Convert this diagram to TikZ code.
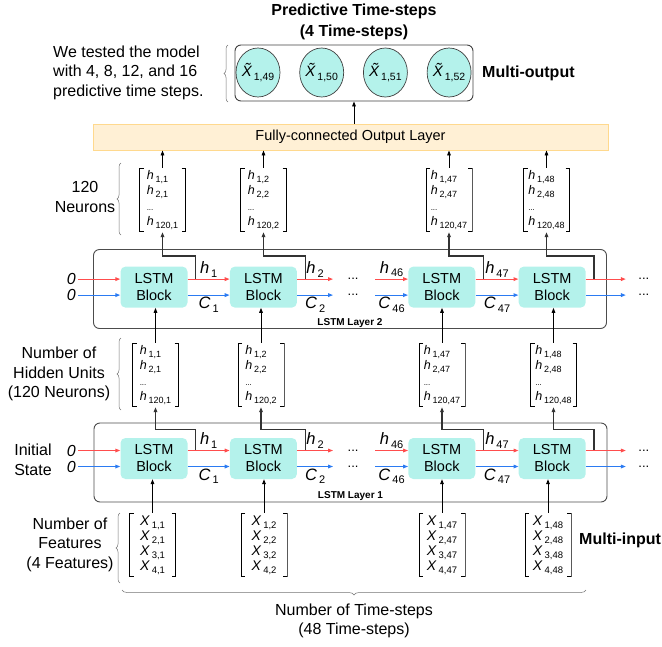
\documentclass[tikz,border=0pt]{standalone}
\usepackage{fontspec}
\setmainfont{Liberation Sans}
\usetikzlibrary{positioning,arrows.meta,shapes.geometric,decorations.pathreplacing}
\definecolor{cellcyan}{HTML}{B4F2EB}
\definecolor{hred}{HTML}{FF4D4D}
\definecolor{cblue}{HTML}{2B7BF2}
\definecolor{fcfill}{HTML}{FFF0D5}
\definecolor{fcdraw}{HTML}{FFD98E}
\newcommand\vsub[3]{\textit{#1}\hspace{2pt}\raisebox{-0.4ex}{\fontsize{#3}{#3}\selectfont #2}}
\newcommand\hcol[1]{\vsub{h}{1,#1}{9}\\\vsub{h}{2,#1}{9}\\{\fontsize{8}{8}\selectfont ...}\\\vsub{h}{120,#1}{9}}
\newcommand\xcol[1]{\vsub{X}{1,#1}{9.5}\\\vsub{X}{2,#1}{9.5}\\\vsub{X}{3,#1}{9.5}\\\vsub{X}{4,#1}{9.5}}

\begin{document}
\begin{tikzpicture}[x=1pt,y=-1pt,
 arrowtip/.style={-{Triangle[length=5pt,width=3.6pt]}},
 arr/.style={arrowtip,line width=0.9pt},
 route/.style={arrowtip,line width=1.2pt,black!80},
 hline/.style={arrowtip,line width=1.2pt,hred},
 cline/.style={arrowtip,line width=1.2pt,cblue},
 block/.style={fill=cellcyan,rounded corners=5pt,minimum width=67pt,minimum height=41pt,inner sep=0,align=center,font=\fontsize{14.5}{17}\selectfont},
 layer/.style={draw=black!70,line width=0.9pt,rounded corners=6pt,minimum width=513pt,minimum height=79pt,inner sep=0},
 layname/.style={font=\bfseries\fontsize{10}{10}\selectfont,inner sep=1pt},
 vecbox/.style={minimum width=47pt,minimum height=64pt,inner sep=0,align=left,
  path picture={\draw[line width=0.8pt] ([xshift=4.5pt,yshift=-0.5pt]path picture bounding box.north west) -- ++(-4pt,0) -- ([xshift=0.5pt,yshift=0.5pt]path picture bounding box.south west) -- ++(4pt,0)
   ([xshift=-4.5pt,yshift=-0.5pt]path picture bounding box.north east) -- ++(4pt,0) -- ([xshift=-0.5pt,yshift=0.5pt]path picture bounding box.south east) -- ++(-4pt,0);}},
 hvec/.style={vecbox,font=\fontsize{12.5}{15.5}\selectfont},
 xvec/.style={vecbox,font=\fontsize{14}{15}\selectfont},
 pred/.style={ellipse,draw=black!75,line width=0.7pt,fill=cellcyan,minimum width=44pt,minimum height=49pt,inner sep=-6pt,font=\fontsize{15}{15}\selectfont},
 outbox/.style={draw=black!75,line width=0.9pt,rounded corners=6pt,minimum width=238pt,minimum height=56pt,inner sep=0},
 fclayer/.style={draw=fcdraw,line width=0.9pt,fill=fcfill,minimum width=515pt,minimum height=26pt,inner sep=0,font=\fontsize{14.5}{14.5}\selectfont},
 zero/.style={text=black,font=\itshape\fontsize{16}{16}\selectfont,inner sep=2pt},
 lab/.style={text=black,font=\fontsize{16.5}{16.5}\selectfont,inner sep=1.5pt},
 dots/.style={font=\fontsize{13}{13}\selectfont,inner sep=0},
 txt/.style={font=\fontsize{16}{19.5}\selectfont,align=center,inner sep=0},
 head/.style={font=\bfseries\fontsize{16}{21}\selectfont,align=center,inner sep=0},
 brc/.style={decorate,decoration={brace,amplitude=4pt},draw=black!55,line width=0.5pt}]
 \useasboundingbox (0,0) rectangle (662,646);

 \node[head] (title) at (354,22) {Predictive Time-steps\\(4 Time-steps)};
 \node[txt,align=left,anchor=west] (note) at (53,72.5) {We tested the model\\with 4, 8, 12, and 16\\predictive time steps.};
 \node[outbox] (out) at (354,73) {};
 \node[pred] (p1) at (258,72.5) {\vsub{\~X}{1,49}{10.5}};
 \node[pred,right=19pt of p1] (p2) {\vsub{\~X}{1,50}{10.5}};
 \node[pred,right=19pt of p2] (p3) {\vsub{\~X}{1,51}{10.5}};
 \node[pred,right=19pt of p3] (p4) {\vsub{\~X}{1,52}{10.5}};
 \node[head,anchor=west] (mout) at (482,73) {Multi-output};
 \node[fclayer] (fc) at (350.5,137) {Fully-connected Output Layer};
 \draw[arr] (fc.north -| out.south) -- (out.south);

 \node[layer] (lB) at (350,289) {};
 \node[layer] (lA) at (350.5,462.5) {};
 \node[layname,above=0.5pt of lB.south] (nB) {LSTM Layer 2};
 \node[layname,above=0.5pt of lA.south] (nA) {LSTM Layer 1};

 \node[block] (bA1) at (154,458.5) {LSTM\\Block};
 \node[block,right=42pt of bA1] (bA2) {LSTM\\Block};
 \node[block,right=111pt of bA2] (bA3) {LSTM\\Block};
 \node[block,right=43pt of bA3] (bA4) {LSTM\\Block};
 \node[block,above=130pt of bA1] (bB1) {LSTM\\Block};
 \node[block,above=130pt of bA2] (bB2) {LSTM\\Block};
 \node[block,above=130pt of bA3] (bB3) {LSTM\\Block};
 \node[block,above=130pt of bA4] (bB4) {LSTM\\Block};

 \foreach \i/\xa/\xb/\xc/\n in {1/152.5/155.5/162.5/1,2/264/261/263.5/2,3/442/442/449/47,4/548/553.5/546.5/48} {
  \node[xvec] (xv\i) at (\xa,545) {\xcol{\n}};
  \node[hvec] (hA\i) at (\xb,375) {\hcol{\n}};
  \node[hvec] (hB\i) at (\xc,200) {\hcol{\n}};
  \draw[arr] (xv\i.north) -- (xv\i.north |- bA\i.south);
  \draw[arr] (hA\i.north) -- (hA\i.north |- bB\i.south);
  \draw[arr] (hB\i.north) -- (hB\i.north |- fc.south);
  \draw[route] ([xshift=8pt,yshift=8pt]bA\i.east) |- ([yshift=-7pt]lA.north -| hA\i.south) -- (hA\i.south);
  \draw[route] ([xshift=8pt,yshift=8pt]bB\i.east) |- ([yshift=-7pt]lB.north -| hB\i.south) -- (hB\i.south);
 }

 \foreach \L in {A,B} {
  \draw[hline] ([xshift=-42pt,yshift=8pt]b\L1.west) node[zero,left] (zh\L) {0} -- ([yshift=8pt]b\L1.west);
  \draw[cline] ([xshift=-42pt,yshift=-8pt]b\L1.west) node[zero,left] (zc\L) {0} -- ([yshift=-8pt]b\L1.west);
  \draw[hline] ([yshift=8pt]b\L1.east) -- node[lab,above] {\vsub{h}{1}{11}} ([yshift=8pt]b\L2.west);
  \draw[cline] ([yshift=-8pt]b\L1.east) -- node[lab,below] {\vsub{C}{1}{11}} ([yshift=-8pt]b\L2.west);
  \draw[hline] ([yshift=8pt]b\L2.east) -- node[lab,above] {\vsub{h}{2}{11}} ++(36pt,0);
  \draw[cline] ([yshift=-8pt]b\L2.east) -- node[lab,below] {\vsub{C}{2}{11}} ++(36pt,0);
  \node[dots] (dh\L) at ([xshift=56pt,yshift=8pt]b\L2.east) {...};
  \node[dots] (dc\L) at ([xshift=56pt,yshift=-8pt]b\L2.east) {...};
  \draw[hline] ([xshift=-33pt,yshift=8pt]b\L3.west) -- node[lab,above] {\vsub{h}{46}{11}} ([yshift=8pt]b\L3.west);
  \draw[cline] ([xshift=-33pt,yshift=-8pt]b\L3.west) -- node[lab,below] {\vsub{C}{46}{11}} ([yshift=-8pt]b\L3.west);
  \draw[hline] ([yshift=8pt]b\L3.east) -- node[lab,above] {\vsub{h}{47}{11}} ([yshift=8pt]b\L4.west);
  \draw[cline] ([yshift=-8pt]b\L3.east) -- node[lab,below] {\vsub{C}{47}{11}} ([yshift=-8pt]b\L4.west);
  \draw[hline] ([yshift=8pt]b\L4.east) -- ++(40pt,0);
  \draw[cline] ([yshift=-8pt]b\L4.east) -- ++(40pt,0);
  \node[dots] (eh\L) at ([xshift=58pt,yshift=8pt]b\L4.east) {...};
  \node[dots] (ec\L) at ([xshift=58pt,yshift=-8pt]b\L4.east) {...};
 }

 \node[txt] (neur) at (85,197) {120\\Neurons};
 \node[txt] (hid) at (59,374) {Number of\\Hidden Units\\(120 Neurons)};
 \node[txt] (init) at (33,460) {Initial\\State};
 \node[txt] (feat) at (70,544.5) {Number of\\Features\\(4 Features)};
 \node[head,anchor=west] (min) at (579,540) {Multi-input};
 \node[txt] (steps) at (354,621) {Number of Time-steps\\(48 Time-steps)};

 \draw[brc] (228,102) -- (228,45);
 \draw[brc] (121,235) -- (121,163);
 \draw[brc] (121,410) -- (121,338);
 \draw[brc] (120,583) -- (120,513);
 \draw[brc,decoration={amplitude=5pt}] (586,590) -- (122,590);
\end{tikzpicture}
\end{document}
